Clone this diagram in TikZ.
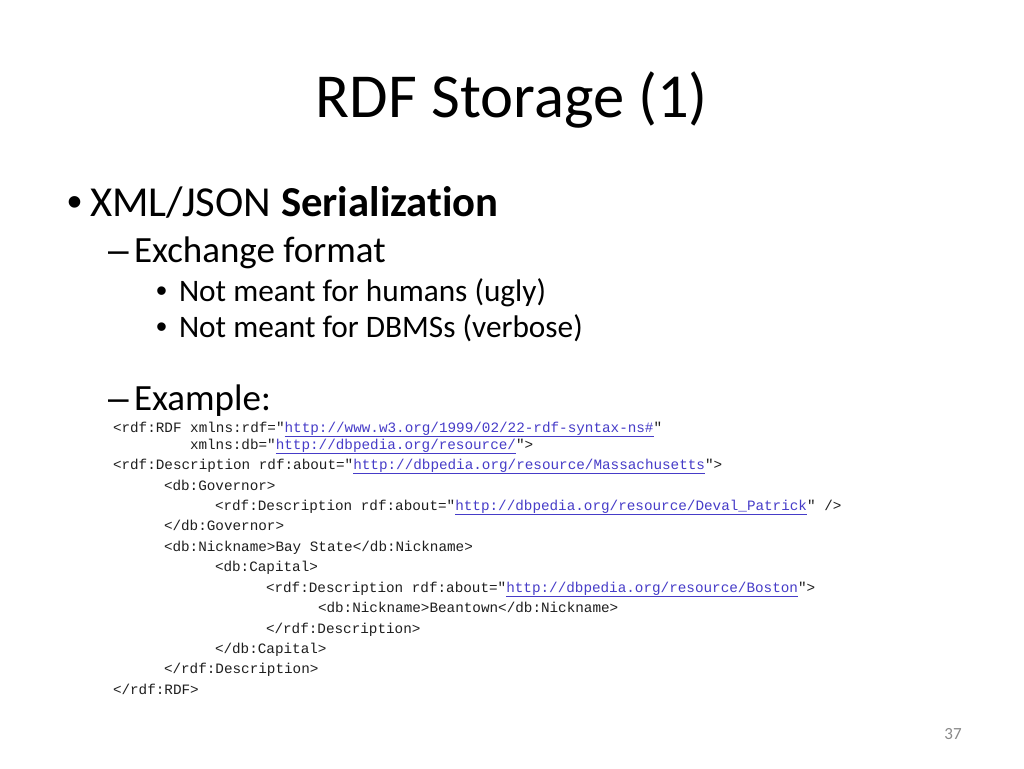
\documentclass[tikz,border=0pt]{standalone}
\usepackage{fontspec}
\setmainfont[Ligatures=NoCommon]{Carlito}
\newfontfamily\codefont{Liberation Mono}
\newfontfamily\bulfont{Liberation Sans}
\definecolor{linkc}{RGB}{70,60,200}
\definecolor{codec}{RGB}{30,30,30}
\definecolor{pgnum}{RGB}{137,137,137}
\newcommand\lnk[1]{\textcolor{linkc}{\underline{#1}}}
\begin{document}
\begin{tikzpicture}[x=1pt,y=-1pt,
  txt/.style={anchor=base west,inner sep=0pt,outer sep=0pt},
  lvlone/.style={txt,font=\fontsize{42.7}{47}\selectfont},
  lvltwo/.style={txt,font=\fontsize{37}{41}\selectfont},
  lvlthree/.style={txt,font=\fontsize{31.3}{35}\selectfont},
  bulone/.style={txt,font=\bulfont\fontsize{42.7}{47}\selectfont},
  bultwo/.style={txt,font=\bulfont\fontsize{37}{41}\selectfont},
  bulthree/.style={txt,font=\bulfont\fontsize{31.3}{35}\selectfont},
  code/.style={txt,text=codec,font=\codefont\fontsize{14.3}{16}\selectfont}]
\useasboundingbox[fill=white] (0,0) rectangle (1024,768);
\node[anchor=base,inner sep=0pt,font=\fontsize{62.6}{68}\selectfont] (title) at (512,117) {RDF Storage (1)};
\node[bulone] (b1) at (67,216) {•};
\node[lvlone] (t1) at (90,216) {XML/JSON \textbf{Serialization}};
\node[bultwo] (b2) at (108,262) {–};
\node[lvltwo] (t2) at (134,262) {Exchange format};
\node[bulthree] (b3) at (156,301) {•};
\node[lvlthree] (t3) at (179,301) {Not meant for humans (ugly)};
\node[bulthree] (b4) at (156,337) {•};
\node[lvlthree] (t4) at (179,337) {Not meant for DBMSs (verbose)};
\node[bultwo] (b5) at (108,410) {–};
\node[lvltwo] (t5) at (134,410) {Example:};
\node[code] (c1) at (113,432) {<rdf:RDF xmlns:rdf="\lnk{http://www.w3.org/1999/02/22-rdf-syntax-ns\#}"};
\node[code] (c2) at (190,449) {xmlns:db="\lnk{http://dbpedia.org/resource/}">};
\node[code] (c3) at (113,469) {<rdf:Description rdf:about="\lnk{http://dbpedia.org/resource/Massachusetts}">};
\node[code] (c4) at (164,490) {<db:Governor>};
\node[code] (c5) at (215,510) {<rdf:Description rdf:about="\lnk{http://dbpedia.org/resource/Deval\_Patrick}" />};
\node[code] (c6) at (164,530) {</db:Governor>};
\node[code] (c7) at (164,551) {<db:Nickname>Bay State</db:Nickname>};
\node[code] (c8) at (215,571) {<db:Capital>};
\node[code] (c9) at (266,592) {<rdf:Description rdf:about="\lnk{http://dbpedia.org/resource/Boston}">};
\node[code] (c10) at (318,612) {<db:Nickname>Beantown</db:Nickname>};
\node[code] (c11) at (266,633) {</rdf:Description>};
\node[code] (c12) at (215,653) {</db:Capital>};
\node[code] (c13) at (164,673) {</rdf:Description>};
\node[code] (c14) at (113,694) {</rdf:RDF>};
\node[anchor=base,inner sep=0pt,text=pgnum,font=\fontsize{17}{19}\selectfont] (pg) at (953,739) {37};
\end{tikzpicture}
\end{document}
